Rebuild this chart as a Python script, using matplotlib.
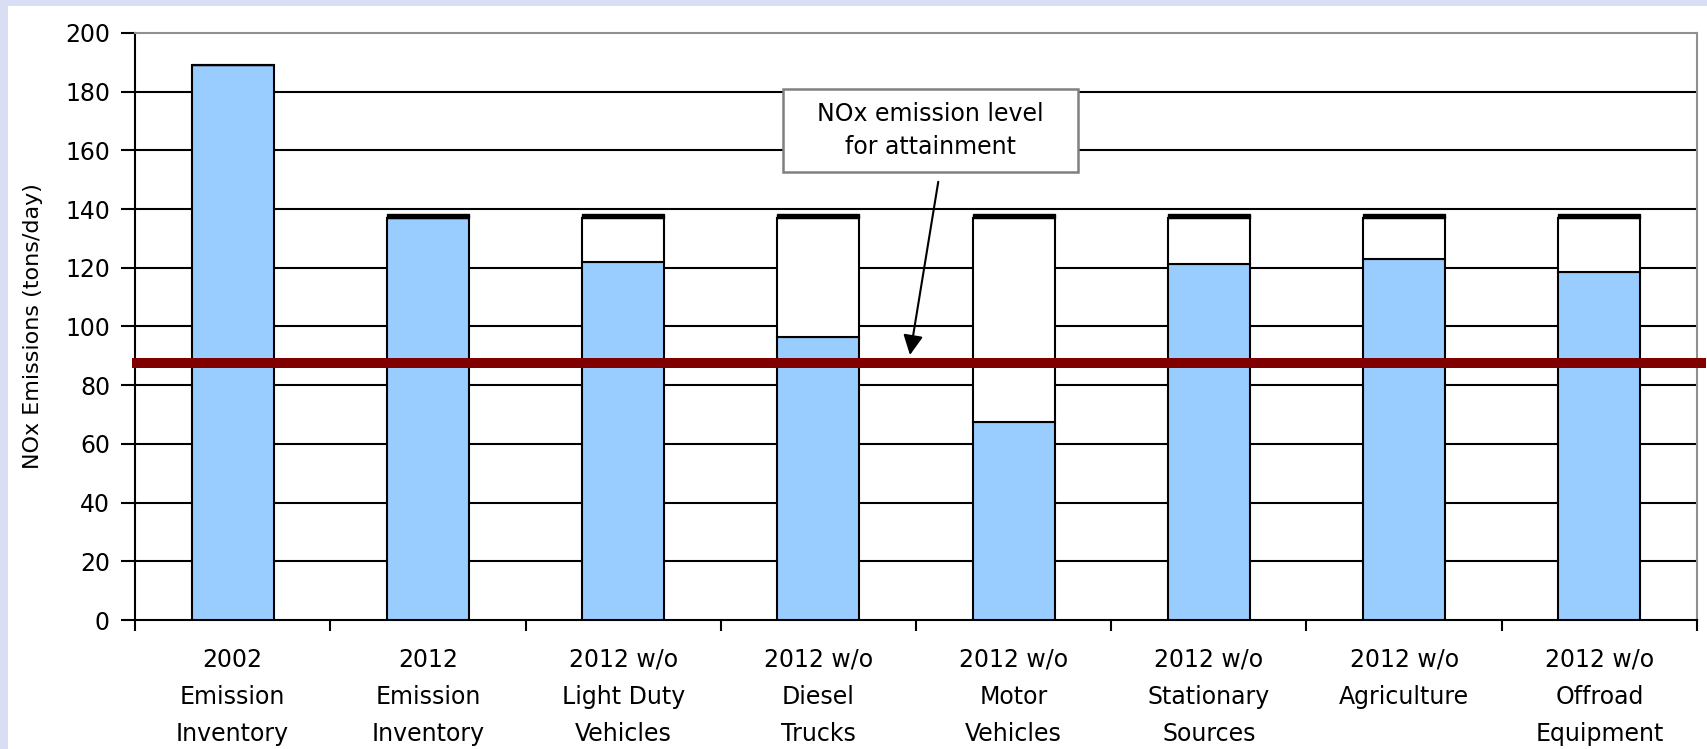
import matplotlib
matplotlib.use("Agg")
import matplotlib.pyplot as plt
from matplotlib.patches import Rectangle

# ---- data ----
categories = ["2002\nEmission\nInventory", "2012\nEmission\nInventory",
              "2012 w/o\nLight Duty\nVehicles", "2012 w/o\nDiesel\nTrucks",
              "2012 w/o\nMotor\nVehicles", "2012 w/o\nStationary\nSources",
              "2012 w/o\nAgriculture", "2012 w/o\nOffroad\nEquipment"]
remaining = [189.0, 137.0, 122.1, 96.3, 67.5, 121.3, 123.0, 118.5]
removed = [0.0, 0.0, 14.9, 40.7, 69.5, 15.7, 14.0, 18.5]
top_cap = [0.0, 1.2, 1.2, 1.2, 1.2, 1.2, 1.2, 1.2]
attainment_level = 87.5
yticks = [0, 20, 40, 60, 80, 100, 120, 140, 160, 180, 200]
annotation_text = "NOx emission level\nfor attainment"
ylabel = "NOx Emissions (tons/day)"

plt.rcParams['font.family'] = ['DejaVu Sans']

W, H = 1708, 749
fig = plt.figure(figsize=(W / 100, H / 100), dpi=100, facecolor="white")

# lavender frame (left and top strips)
bg = "#d9def4"
fig.patches.append(Rectangle((0, 0), 8 / W, 1, transform=fig.transFigure, fc=bg, ec="none", zorder=0))
fig.patches.append(Rectangle((0, 1 - 6 / H), 1, 6 / H, transform=fig.transFigure, fc=bg, ec="none", zorder=0))

left, right, bottom, top = 135 / W, 1697 / W, (H - 620) / H, (H - 33) / H
ax = fig.add_axes([left, bottom, right - left, top - bottom])
ax.set_facecolor("white")

x = list(range(len(categories)))
bw = 0.42
ax.bar(x, remaining, width=bw, color="#99ccff", edgecolor="black", linewidth=1.5, zorder=3)
ax.bar(x, removed, width=bw, bottom=remaining, color="white", edgecolor="black", linewidth=1.5, zorder=3)
cap_bottom = [r + d for r, d in zip(remaining, removed)]
ax.bar(x, top_cap, width=bw, bottom=cap_bottom, color="black", edgecolor="black", linewidth=1.0, zorder=3)

ax.set_xlim(-0.5, len(categories) - 0.5)
ax.set_ylim(0, 200)
ax.set_yticks(yticks)
ax.tick_params(axis="y", labelsize=17, length=10, width=1.5, pad=8, direction="out")
for g in yticks[1:-1]:
    ax.axhline(g, color="black", lw=1.5, zorder=1)

# x ticks at category boundaries, labels at centers
ax.set_xticks([i + 0.5 for i in range(-1, len(categories))])
ax.set_xticklabels([])
ax.tick_params(axis="x", which="major", length=8, width=1.5, direction="out")
ax.set_xticks(x, minor=True)
ax.set_xticklabels(categories, minor=True, fontsize=17, linespacing=1.7)
ax.tick_params(axis="x", which="minor", length=0, pad=20)

for s in ["left", "bottom"]:
    ax.spines[s].set_color("black")
    ax.spines[s].set_linewidth(1.5)
for s in ["top", "right"]:
    ax.spines[s].set_color("#909090")
    ax.spines[s].set_linewidth(1.5)

ax.set_ylabel(ylabel, fontsize=16, labelpad=16)

# attainment line as a thin band (axes-fraction x, data y)
half = 1.7
ax.add_patch(Rectangle((-0.002, attainment_level - half), 1.008, 2 * half,
                       transform=ax.get_yaxis_transform(), fc="#800000", ec="none",
                       zorder=4, clip_on=False))

# annotation box and arrow
ax.add_patch(Rectangle((2.819, 152.6), 4.330 - 2.819, 180.9 - 152.6, fc="white",
                       ec="#808080", lw=1.8, zorder=6))
ax.text(3.574, 166.8, annotation_text, ha="center", va="center", fontsize=17,
        linespacing=1.5, zorder=7)
ax.annotate("", xy=(3.469, 90.3), xytext=(3.614, 149.3),
            arrowprops=dict(arrowstyle="-|>", color="black", lw=1.5, mutation_scale=30,
                            shrinkA=0, shrinkB=0), zorder=7)

fig.savefig("out.png", dpi=100, facecolor="white")
